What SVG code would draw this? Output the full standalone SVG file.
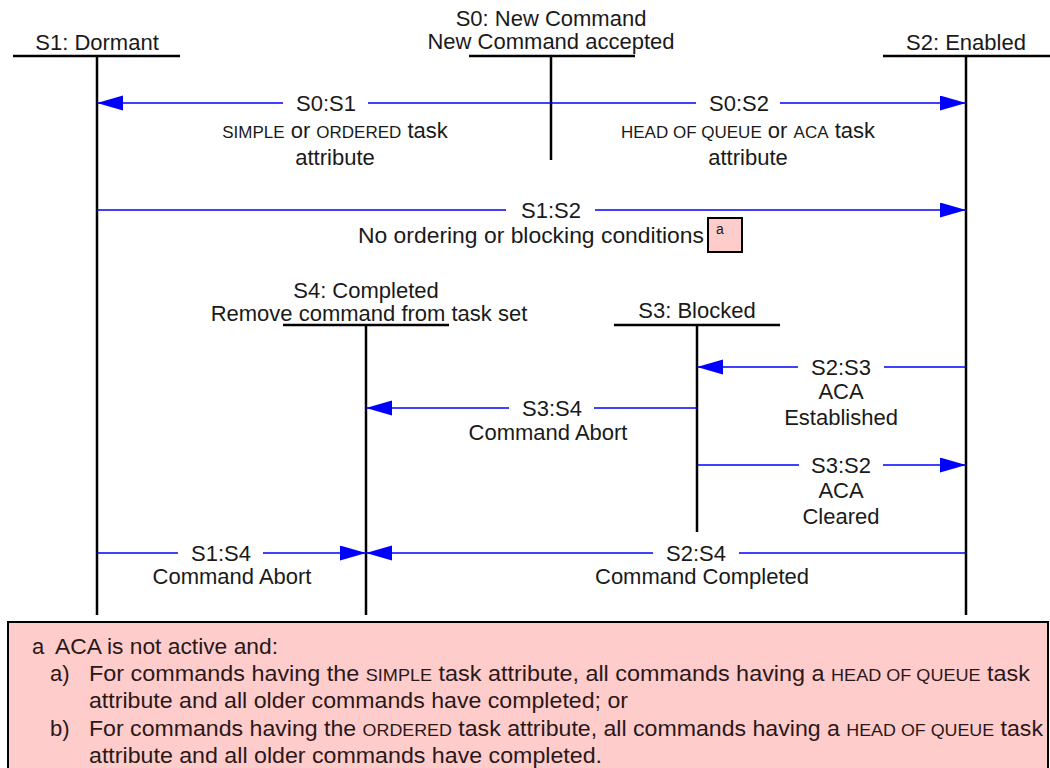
<svg xmlns="http://www.w3.org/2000/svg" width="1050" height="768" viewBox="0 0 1050 768">
<style>
.t{font-family:"Liberation Sans",Arial,sans-serif;font-size:22px;fill:#1a1a1a;text-anchor:middle}
.sc{font-size:17px}
.st{stroke:#000;stroke-width:2.5;fill:none}
.cn{stroke:#0000ff;stroke-width:1.6;fill:none}
.fn{font-family:"Liberation Sans",Arial,sans-serif;font-size:22px;fill:#2a1818}
.fsc{font-size:17px}
</style>
<defs>
<marker id="ah" markerUnits="userSpaceOnUse" markerWidth="27" markerHeight="16" refX="26" refY="7.5" orient="auto">
<path d="M0,0 L26,7.5 L0,15 z" fill="#0000ff"/>
</marker>
</defs>
<rect width="1050" height="768" fill="#fff"/>

<g id="s1">
<line class="st" x1="13" y1="56" x2="180" y2="56"/>
<line class="st" x1="97" y1="56" x2="97" y2="615"/>
<text class="t" x="97" y="50">S1: Dormant</text>
</g>
<g id="s0">
<line class="st" x1="469" y1="56" x2="635" y2="56"/>
<line class="st" x1="551" y1="56" x2="551" y2="160"/>
<text class="t" x="551" y="26">S0: New Command</text>
<text class="t" x="551" y="49">New Command accepted</text>
</g>
<g id="s2">
<line class="st" x1="883" y1="56" x2="1050" y2="56"/>
<line class="st" x1="966" y1="56" x2="966" y2="615"/>
<text class="t" x="966" y="50">S2: Enabled</text>
</g>
<g id="s4">
<line class="st" x1="283" y1="325" x2="449" y2="325"/>
<line class="st" x1="366" y1="325" x2="366" y2="615"/>
<text class="t" x="366" y="298">S4: Completed</text>
<text class="t" x="369" y="321">Remove command from task set</text>
</g>
<g id="s3">
<line class="st" x1="614" y1="325" x2="780" y2="325"/>
<line class="st" x1="697" y1="325" x2="697" y2="532"/>
<text class="t" x="697" y="318">S3: Blocked</text>
</g>

<g id="connectors">
<line class="cn" x1="551" y1="103" x2="368" y2="103"/>
<line class="cn" x1="283" y1="103" x2="97" y2="103" marker-end="url(#ah)"/>
<line class="cn" x1="551" y1="103" x2="696" y2="103"/>
<line class="cn" x1="780" y1="103" x2="966" y2="103" marker-end="url(#ah)"/>
<line class="cn" x1="97" y1="210" x2="506" y2="210"/>
<line class="cn" x1="595" y1="210" x2="966" y2="210" marker-end="url(#ah)"/>
<line class="cn" x1="966" y1="367" x2="884" y2="367"/>
<line class="cn" x1="798" y1="367" x2="697" y2="367" marker-end="url(#ah)"/>
<line class="cn" x1="697" y1="408" x2="594" y2="408"/>
<line class="cn" x1="509" y1="408" x2="366" y2="408" marker-end="url(#ah)"/>
<line class="cn" x1="697" y1="465" x2="799" y2="465"/>
<line class="cn" x1="883" y1="465" x2="966" y2="465" marker-end="url(#ah)"/>
<line class="cn" x1="97" y1="553" x2="178" y2="553"/>
<line class="cn" x1="263" y1="553" x2="366" y2="553" marker-end="url(#ah)"/>
<line class="cn" x1="966" y1="553" x2="739" y2="553"/>
<line class="cn" x1="653" y1="553" x2="366" y2="553" marker-end="url(#ah)"/>

<text class="t" x="326" y="111">S0:S1</text>
<text class="t" x="335" y="138"><tspan class="sc">SIMPLE</tspan> or <tspan class="sc">ORDERED</tspan> task</text>
<text class="t" x="335" y="165">attribute</text>
<text class="t" x="739" y="111">S0:S2</text>
<text class="t" x="748" y="138"><tspan class="sc">HEAD OF QUEUE</tspan> or <tspan class="sc">ACA</tspan> task</text>
<text class="t" x="748" y="165">attribute</text>

<text class="t" x="551" y="218">S1:S2</text>
<text class="t" x="531" y="243" textLength="346" lengthAdjust="spacingAndGlyphs">No ordering or blocking conditions</text>
<rect x="708" y="218" width="34" height="34" fill="#ffcccc" stroke="#000" stroke-width="2"/>
<text class="t" x="720" y="234" style="font-size:14px">a</text>

<text class="t" x="841" y="375">S2:S3</text>
<text class="t" x="841" y="399">ACA</text>
<text class="t" x="841" y="425">Established</text>

<text class="t" x="552" y="416">S3:S4</text>
<text class="t" x="548" y="440">Command Abort</text>

<text class="t" x="841" y="473">S3:S2</text>
<text class="t" x="841" y="498">ACA</text>
<text class="t" x="841" y="524">Cleared</text>

<text class="t" x="221" y="561">S1:S4</text>
<text class="t" x="232" y="584">Command Abort</text>

<text class="t" x="696" y="561">S2:S4</text>
<text class="t" x="702" y="584">Command Completed</text>
</g>

<g id="footnote">
<rect x="8" y="622" width="1040" height="160" fill="#ffcccc" stroke="#000" stroke-width="2"/>
<text class="fn" x="32" y="654">a</text>
<text class="fn" x="55" y="654" textLength="223" lengthAdjust="spacingAndGlyphs">ACA is not active and:</text>
<text class="fn" x="50" y="681">a)</text>
<text class="fn" x="89" y="681" textLength="941" lengthAdjust="spacingAndGlyphs">For commands having the <tspan class="fsc">SIMPLE</tspan> task attribute, all commands having a <tspan class="fsc">HEAD OF QUEUE</tspan> task</text>
<text class="fn" x="89" y="708" textLength="539" lengthAdjust="spacingAndGlyphs">attribute and all older commands have completed; or</text>
<text class="fn" x="50" y="736">b)</text>
<text class="fn" x="89" y="736" textLength="954" lengthAdjust="spacingAndGlyphs">For commands having the <tspan class="fsc">ORDERED</tspan> task attribute, all commands having a <tspan class="fsc">HEAD OF QUEUE</tspan> task</text>
<text class="fn" x="89" y="763" textLength="513" lengthAdjust="spacingAndGlyphs">attribute and all older commands have completed.</text>
</g>
</svg>
